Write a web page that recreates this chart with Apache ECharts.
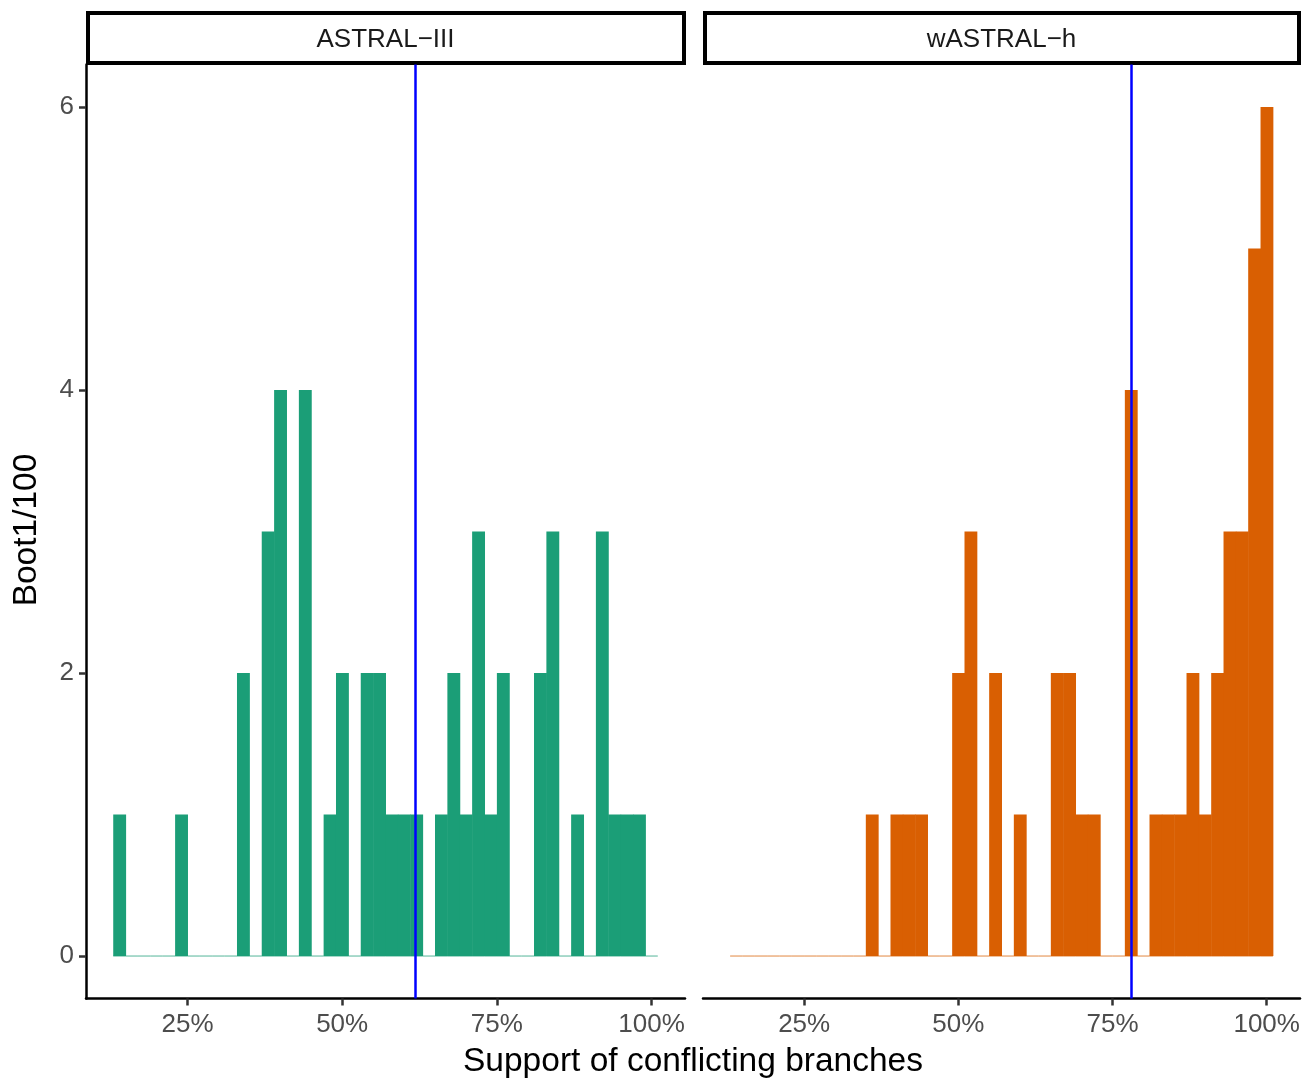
<!DOCTYPE html>
<html lang="en">
  <head>
    <meta charset="utf-8" />
    <style>
      html {
        width: 100%;
        height: 100%;
        background-color: #ffffff;
      }
      body {
        margin: 0;
      }
      body,
      #container {
        width: 100%;
        height: 100%;
      }
    </style>
    <script src="https://cdn.jsdelivr.net/npm/echarts@6/dist/echarts.min.js"></script>
  </head>

  <body>
    <div id="container"></div>

    <script>
      // histogram bins (centre of each 2% bin)
      var binMids = [14, 16, 18, 20, 22, 24, 26, 28, 30, 32, 34, 36, 38, 40, 42, 44, 46, 48, 50, 52, 54, 56,
        58, 60, 62, 64, 66, 68, 70, 72, 74, 76, 78, 80, 82, 84, 86, 88, 90, 92, 94, 96, 98, 100];
      var binWidth = 2;

      var panelNames = ["ASTRAL\u2212III", "wASTRAL\u2212h"];
      var astralCounts = [1, 0, 0, 0, 0, 1, 0, 0, 0, 0, 2, 0, 3, 4, 0, 4, 0, 1, 2, 0, 2, 2,
        1, 1, 1, 0, 1, 2, 1, 3, 1, 2, 0, 0, 2, 3, 0, 1, 0, 3, 1, 1, 1, 0];
      var wastralCounts = [0, 0, 0, 0, 0, 0, 0, 0, 0, 0, 0, 1, 0, 1, 1, 1, 0, 0, 2, 3, 0, 2,
        0, 1, 0, 0, 2, 2, 1, 1, 0, 0, 4, 0, 1, 1, 1, 2, 1, 2, 3, 3, 5, 6];
      var medianLines = [61.8, 78.1];

      var xTicks = [25, 50, 75, 100];
      var yTicks = [0, 2, 4, 6];
      var colors = ["#1B9E77", "#D95F02"];
      var baseColors = ["rgba(27,158,119,0.5)", "rgba(217,95,2,0.5)"];

      (function () {
        var chart = echarts.init(document.querySelector("#container"));
        var font = "'Liberation Sans', Arial, Helvetica, sans-serif";

        var panels = [
          { left: 86, width: 599, counts: astralCounts },
          { left: 703, width: 597, counts: wastralCounts }
        ];

        function histItem(idx) {
          return function (params, api) {
            var c = api.value(0);
            var n = api.value(1);
            var p0 = api.coord([c - binWidth / 2, 0]);
            var p1 = api.coord([c + binWidth / 2, n]);
            var children = [
              {
                type: "line",
                shape: { x1: p0[0], y1: p0[1], x2: p1[0], y2: p0[1] },
                style: { stroke: baseColors[idx], lineWidth: 1.5 }
              }
            ];
            if (n > 0) {
              children.push({
                type: "rect",
                shape: { x: p0[0], y: p1[1], width: p1[0] - p0[0] + 0.5, height: p0[1] - p1[1] },
                style: { fill: colors[idx] }
              });
            }
            return { type: "group", children: children };
          };
        }

        var grids = [], xAxes = [], yAxes = [], series = [], graphics = [];
        panels.forEach(function (p, i) {
          grids.push({ left: p.left, top: 64.5, width: p.width, height: 934 });
          xAxes.push({
            type: "value",
            gridIndex: i,
            min: 8.6,
            max: 105.4,
            splitLine: { show: false },
            axisLine: { show: true, onZero: false, lineStyle: { color: "#000", width: 2.5 } },
            axisTick: { show: true, length: 7, customValues: xTicks, lineStyle: { color: "#333", width: 2.5 } },
            axisLabel: {
              customValues: xTicks,
              formatter: function (v) { return v + "%"; },
              color: "#4D4D4D",
              fontSize: 26,
              fontFamily: font,
              margin: 13
            }
          });
          yAxes.push({
            type: "value",
            gridIndex: i,
            min: -0.3,
            max: 6.3,
            splitLine: { show: false },
            axisLine: { show: i === 0, onZero: false, lineStyle: { color: "#000", width: 2.5 } },
            axisTick: { show: i === 0, length: 7, customValues: yTicks, lineStyle: { color: "#333", width: 2.5 } },
            axisLabel: {
              show: i === 0,
              customValues: yTicks,
              color: "#4D4D4D",
              fontSize: 26,
              fontFamily: font,
              margin: 12
            }
          });
          series.push({
            type: "custom",
            xAxisIndex: i,
            yAxisIndex: i,
            renderItem: histItem(i),
            data: binMids.map(function (m, k) { return [m, p.counts[k]]; }),
            markLine: {
              silent: true,
              symbol: "none",
              label: { show: false },
              lineStyle: { color: "#0000FF", width: 2.5, type: "solid" },
              data: [{ xAxis: medianLines[i] }]
            }
          });
          // facet strip
          graphics.push({
            type: "rect",
            shape: { x: p.left + 2, y: 13, width: p.width - 3, height: 50 },
            style: { fill: "#fff", stroke: "#000", lineWidth: 4 }
          });
          graphics.push({
            type: "text",
            x: p.left + p.width / 2,
            y: 40,
            style: {
              text: panelNames[i],
              fill: "#1A1A1A",
              font: "26px " + font,
              align: "center",
              verticalAlign: "middle"
            }
          });
        });

        graphics.push({
          type: "text",
          x: 693,
          y: 1062,
          style: {
            text: "Support of conflicting branches",
            fill: "#000",
            font: "33.5px " + font,
            align: "center",
            verticalAlign: "middle"
          }
        });
        graphics.push({
          type: "text",
          x: 27,
          y: 530,
          rotation: Math.PI / 2,
          style: {
            text: "Boot1/100",
            fill: "#000",
            font: "33.5px " + font,
            align: "center",
            verticalAlign: "middle"
          }
        });

        chart.setOption({
          animation: false,
          grid: grids,
          xAxis: xAxes,
          yAxis: yAxes,
          series: series,
          graphic: graphics
        });

        window.addEventListener("resize", function () {
          chart && chart.resize && chart.resize();
        });
      })();
    </script>
  </body>
</html>
